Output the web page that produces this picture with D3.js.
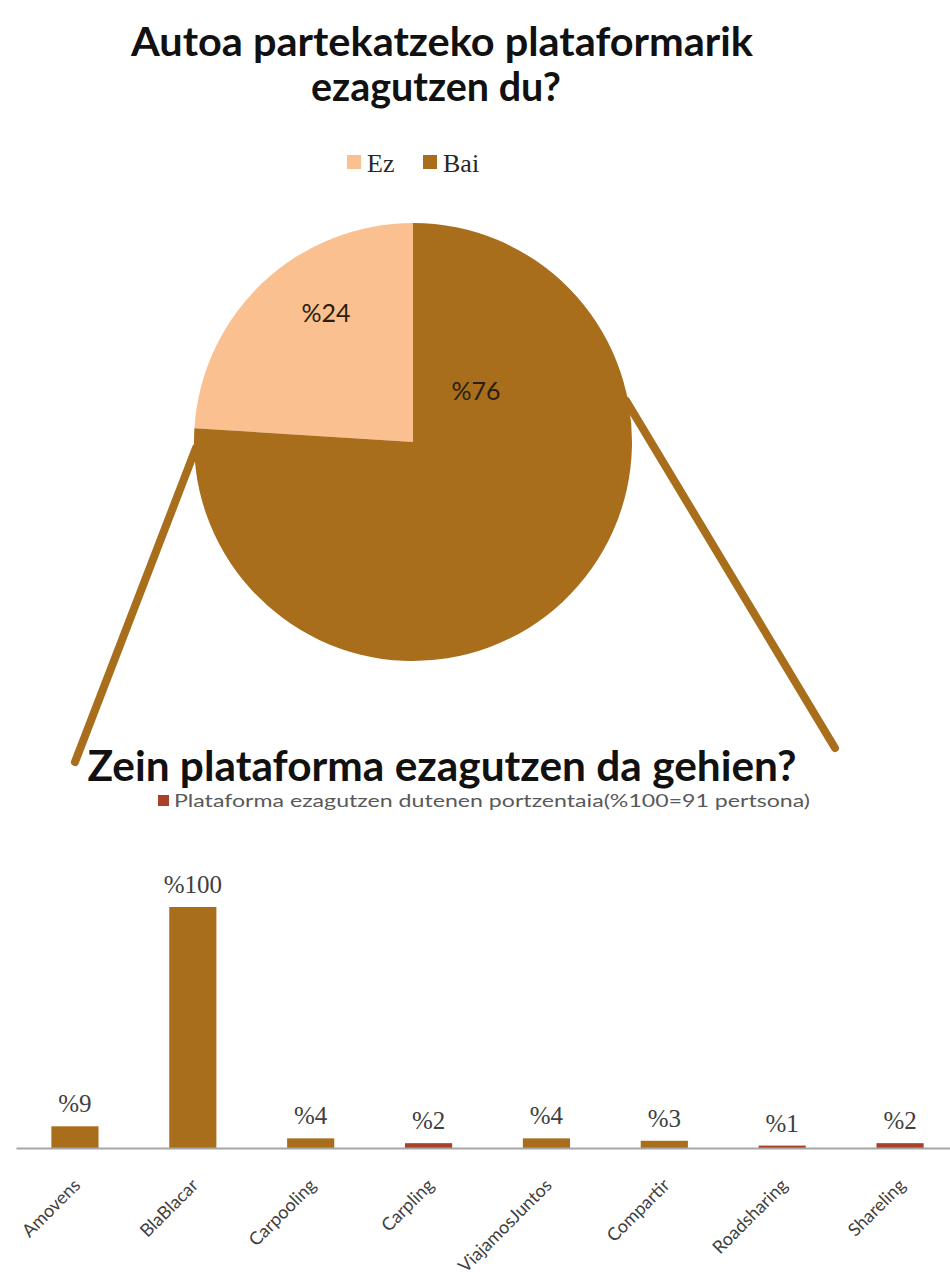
<!DOCTYPE html>
<html>
<head>
<meta charset="utf-8">
<script src="https://cdn.jsdelivr.net/npm/d3@7"></script>
<style>
	body { margin: 0; background: #fff; }
	svg { display: block; }
</style>
</head>
<body>
<svg id="chart"></svg>
<script>
// Pie: "Autoa partekatzeko plataformarik ezagutzen du?"
const pieLabels = [ 'Ez', 'Bai' ];
const pieValues = [ 24, 76 ];

// Bars: "Zein plataforma ezagutzen da gehien?"
const platforms = [ 'Amovens', 'BlaBlacar', 'Carpooling', 'Carpling', 'ViajamosJuntos', 'Compartir', 'Roadsharing', 'Shareling' ];
const knownPct = [ 9, 100, 4, 2, 4, 3, 1, 2 ];

const width = 950;
const height = 1286;

const brown = '#a86e1c';
const peach = '#fac08f';
const rust = '#a8402a';

const svg = d3.select( '#chart' )
	.attr( 'width', width )
	.attr( 'height', height );

svg.append( 'rect' )
	.attr( 'width', width )
	.attr( 'height', height )
	.attr( 'fill', '#fff' );

// squeeze a text to a given width (Calibri is narrower than what we have)
function fitText( sel, w ) {
	sel.attr( 'textLength', w ).attr( 'lengthAdjust', 'spacingAndGlyphs' );
}

const titleFont = 'Lato, "Open Sans", sans-serif';

// Top title
svg.append( 'text' )
	.attr( 'x', 442 ).attr( 'y', 56 )
	.attr( 'text-anchor', 'middle' )
	.style( 'font-family', titleFont ).style( 'font-weight', 700 ).style( 'font-size', '40px' )
	.attr( 'fill', '#111' )
	.text( 'Autoa partekatzeko plataformarik' )
	.call( fitText, 622 );

svg.append( 'text' )
	.attr( 'x', 436 ).attr( 'y', 101 )
	.attr( 'text-anchor', 'middle' )
	.style( 'font-family', titleFont ).style( 'font-weight', 700 ).style( 'font-size', '40px' )
	.attr( 'fill', '#111' )
	.text( 'ezagutzen du?' )
	.call( fitText, 250 );

// Pie legend
const pieColor = d3.scaleOrdinal().domain( pieLabels ).range( [ peach, brown ] );

const pieLegend = svg.append( 'g' )
	.attr( 'transform', 'translate(347,172)' );

const legendX = d3.scalePoint().domain( pieLabels ).range( [ 0, 76 ] );

const pieLegendItem = pieLegend.selectAll( 'g' )
	.data( pieLabels )
	.enter()
	.append( 'g' )
	.attr( 'transform', ( d ) => `translate(${ legendX( d ) },0)` );

pieLegendItem.append( 'rect' )
	.attr( 'x', 0 ).attr( 'y', -17 )
	.attr( 'width', 14 ).attr( 'height', 14 )
	.attr( 'fill', ( d ) => pieColor( d ) );

pieLegendItem.append( 'text' )
	.attr( 'x', 20 ).attr( 'y', 0 )
	.style( 'font-family', '"Liberation Serif", "Times New Roman", serif' )
	.style( 'font-size', '26px' )
	.attr( 'fill', '#262626' )
	.text( ( d ) => d );

// Pie
const cx = 413;
const cy = 442;
const radius = 219;

const pie = d3.pie()
	.value( ( d ) => d.value )
	.sort( ( a, b ) => b.value - a.value );

const pieData = pie( pieLabels.map( ( label, i ) => ( { label, value: pieValues[ i ] } ) ) );

const arc = d3.arc().innerRadius( 0 ).outerRadius( radius );

const pieG = svg.append( 'g' )
	.attr( 'transform', `translate(${ cx },${ cy })` );

// Zoom lines from the pie down to the bar chart
const toRad = ( deg ) => deg * Math.PI / 180;
const zoomLines = [
	{ angle: 268.5, end: [ 75, 762 ] },
	{ angle: 79, end: [ 835, 748 ] },
];

svg.append( 'g' )
	.selectAll( 'line' )
	.data( zoomLines )
	.enter()
	.append( 'line' )
	.attr( 'x1', ( d ) => cx + d3.pointRadial( toRad( d.angle ), radius - 2 )[ 0 ] )
	.attr( 'y1', ( d ) => cy + d3.pointRadial( toRad( d.angle ), radius - 2 )[ 1 ] )
	.attr( 'x2', ( d ) => d.end[ 0 ] )
	.attr( 'y2', ( d ) => d.end[ 1 ] )
	.attr( 'stroke', brown )
	.attr( 'stroke-width', 8 )
	.attr( 'stroke-linecap', 'round' );

pieG.raise();

pieG.selectAll( 'path' )
	.data( pieData )
	.enter()
	.append( 'path' )
	.attr( 'd', arc )
	.attr( 'fill', ( d ) => pieColor( d.data.label ) );

// label placement (angle in degrees from 12 o'clock, fraction of radius)
const pieLabelPlace = { Ez: [ 326, 0.71 ], Bai: [ 51, 0.37 ] };

pieG.selectAll( 'text' )
	.data( pieData )
	.enter()
	.append( 'text' )
	.attr( 'transform', ( d ) => {
		const p = pieLabelPlace[ d.data.label ];
		const [ px, py ] = d3.pointRadial( toRad( p[ 0 ] ), radius * p[ 1 ] );
		return `translate(${ px },${ py })`;
	} )
	.attr( 'text-anchor', 'middle' )
	.attr( 'dy', '0.35em' )
	.style( 'font-family', titleFont )
	.style( 'font-size', '25px' )
	.attr( 'fill', '#2a1e10' )
	.text( ( d ) => `%${ d.data.value }` );

// Bar chart title + legend
svg.append( 'text' )
	.attr( 'x', 442 ).attr( 'y', 781 )
	.attr( 'text-anchor', 'middle' )
	.style( 'font-family', titleFont ).style( 'font-weight', 700 ).style( 'font-size', '42px' )
	.attr( 'fill', '#111' )
	.text( 'Zein plataforma ezagutzen da gehien?' )
	.call( fitText, 709 );

const barLegend = svg.append( 'g' )
	.attr( 'transform', 'translate(158,807)' );

barLegend.append( 'rect' )
	.attr( 'x', 0 ).attr( 'y', -12 )
	.attr( 'width', 11 ).attr( 'height', 11 )
	.attr( 'fill', rust );

barLegend.append( 'text' )
	.attr( 'x', 16 ).attr( 'y', 0 )
	.style( 'font-family', titleFont )
	.style( 'font-size', '17px' )
	.attr( 'fill', '#595959' )
	.text( 'Plataforma ezagutzen dutenen portzentaia(%100=91 pertsona)' )
	.call( fitText, 636 );

// Bars
const baseline = 1148;

const x = d3.scaleBand()
	.domain( platforms )
	.range( [ 16, 959 ] )
	.paddingInner( 0.6 )
	.paddingOuter( 0.3 );

const y = d3.scaleLinear()
	.domain( [ 0, 100 ] )
	.range( [ baseline, 907 ] );

const barData = platforms.map( ( name, i ) => ( { name, value: knownPct[ i ] } ) );

svg.append( 'g' )
	.selectAll( 'rect' )
	.data( barData )
	.enter()
	.append( 'rect' )
	.attr( 'x', ( d ) => x( d.name ) )
	.attr( 'y', ( d ) => y( d.value ) )
	.attr( 'width', x.bandwidth() )
	.attr( 'height', ( d ) => y( 0 ) - y( d.value ) )
	.attr( 'fill', ( d ) => d.value <= 2 ? rust : brown );

svg.append( 'g' )
	.selectAll( 'text' )
	.data( barData )
	.enter()
	.append( 'text' )
	.attr( 'x', ( d ) => x( d.name ) + x.bandwidth() / 2 )
	.attr( 'y', ( d ) => y( d.value ) - 14 )
	.attr( 'text-anchor', 'middle' )
	.style( 'font-family', '"Liberation Serif", "Times New Roman", serif' )
	.style( 'font-size', '25px' )
	.attr( 'fill', '#404040' )
	.text( ( d ) => `%${ d.value }` );

// Axis
const xAxis = svg.append( 'g' )
	.attr( 'transform', `translate(0,${ baseline })` )
	.call( d3.axisBottom( x ).tickSize( 0 ).tickSizeOuter( 0 ) );

xAxis.select( '.domain' )
	.attr( 'stroke', '#a6a6a6' )
	.attr( 'stroke-width', 2 );

xAxis.selectAll( '.tick text' )
	.attr( 'x', 0 )
	.attr( 'y', 0 )
	.attr( 'dy', '0.35em' )
	.attr( 'text-anchor', 'end' )
	.attr( 'transform', 'translate(2,34) rotate(-45)' )
	.style( 'font-family', titleFont )
	.style( 'font-size', '18px' )
	.attr( 'fill', '#404040' );
</script>
</body>
</html>
